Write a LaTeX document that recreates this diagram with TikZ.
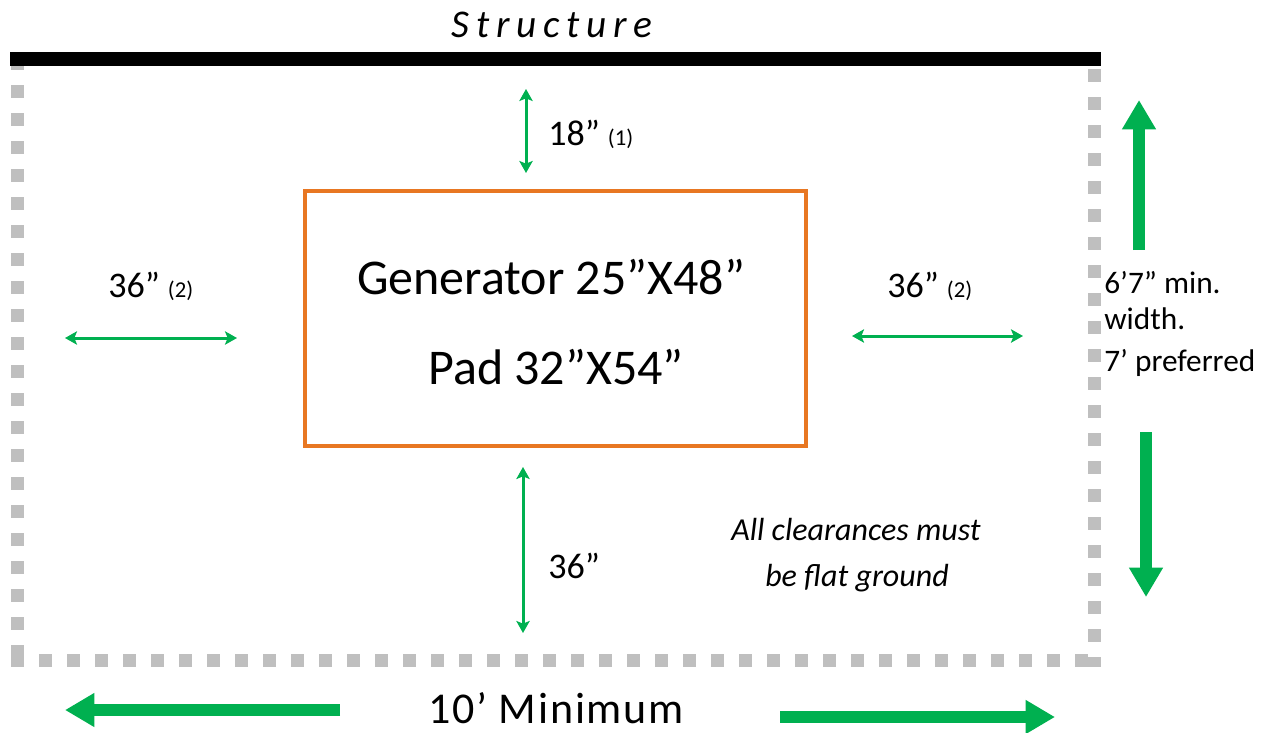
\documentclass[tikz,border=0pt]{standalone}
\usepackage{fontspec}
\setmainfont{Carlito}
\usetikzlibrary{arrows.meta}
\definecolor{grn}{HTML}{00B050}
\definecolor{org}{HTML}{E87722}
\definecolor{gry}{HTML}{BFBFBF}
\begin{document}
\begin{tikzpicture}[x=0.75pt,y=-0.75pt,
  thinarrow/.style={grn, line width=2.25pt,
    {Stealth[width=10pt,length=9pt,inset=2pt]}-{Stealth[width=10pt,length=9pt,inset=2pt]}},
  bigarrow/.style={grn, line width=9pt, -{Triangle[width=24pt,length=22pt]}},
  border/.style={gry, line width=9.75pt, dash pattern=on 9.75pt off 11.25pt},
  lbl/.style={inner sep=0pt, font=\fontsize{27}{32}\selectfont},
  small/.style={inner sep=0pt, font=\fontsize{23.5}{28}\selectfont},
  note/.style={inner sep=0pt, font=\fontsize{24}{29}\selectfont\itshape},
  genbox/.style={draw=org, line width=3pt, minimum width=375.75pt, minimum height=191.25pt, inner sep=0pt}]
\useasboundingbox (0,0) rectangle (1280,732);
% clearance border
\coordinate (bl1) at (17,57);   \coordinate (bl2) at (17,667);
\coordinate (br1) at (1094,69); \coordinate (br2) at (1094,667);
\coordinate (bb1) at (11,660);  \coordinate (bb2) at (1101,660);
\draw[border] (bl1) -- (bl2);
\draw[border] (br1) -- (br2);
\draw[border] (bb1) -- (bb2);
% structure wall
\coordinate (w1) at (10,59); \coordinate (w2) at (1101,59);
\draw[line width=10.5pt] (w1) -- (w2);
\node[inner sep=0pt, anchor=base, font=\fontsize{29.5}{34}\selectfont\itshape\addfontfeatures{LetterSpace=17}] (struct) at (552,37) {Structure};
% generator
\node[genbox] (gen) at (555.5,318.5) {};
\node[inner sep=0pt, anchor=base, font=\fontsize{37.5}{44}\selectfont] (gtxt) at (551,294) {Generator 25”X48”};
\node[inner sep=0pt, anchor=base, font=\fontsize{37.5}{44}\selectfont] (ptxt) at (556,384) {Pad 32”X54”};
% top clearance
\coordinate (a1) at (526,89); \coordinate (a2) at (526,173);
\draw[thinarrow] (a1) -- (a2);
\node[lbl, anchor=base west] (t18) at (548,145) {18” {\fontsize{17}{20}\selectfont(1)}};
% left clearance
\coordinate (b1) at (65,338); \coordinate (b2) at (237,338);
\draw[thinarrow] (b1) -- (b2);
\node[lbl, anchor=base west] (tl) at (108,297) {36” {\fontsize{17}{20}\selectfont(2)}};
% right clearance
\coordinate (c1) at (852,336); \coordinate (c2) at (1023,336);
\draw[thinarrow] (c1) -- (c2);
\node[lbl, anchor=base west] (tr) at (887,297) {36” {\fontsize{17}{20}\selectfont(2)}};
% bottom clearance
\coordinate (d1) at (523,467); \coordinate (d2) at (523,633);
\draw[thinarrow] (d1) -- (d2);
\node[lbl, anchor=base west] (tb) at (548,578) {36”};
% note
\node[note, anchor=base] (n1) at (856,540) {All clearances must};
\node[note, anchor=base] (n2) at (857,586) {be flat ground};
% width
\coordinate (u1) at (1139,250); \coordinate (u2) at (1139,100);
\draw[bigarrow] (u1) -- (u2);
\coordinate (v1) at (1146,432); \coordinate (v2) at (1146,597);
\draw[bigarrow] (v1) -- (v2);
\node[small, anchor=base west] (w1t) at (1104,293) {6’7” min.};
\node[small, anchor=base west] (w2t) at (1104,329) {width.};
\node[small, anchor=base west] (w3t) at (1104,371) {7’ preferred};
% length
\coordinate (h1) at (340,710); \coordinate (h2) at (65,710);
\draw[bigarrow] (h1) -- (h2);
\coordinate (k1) at (780,717); \coordinate (k2) at (1055,717);
\draw[bigarrow] (k1) -- (k2);
\node[inner sep=0pt, anchor=base, font=\fontsize{33}{39}\selectfont\addfontfeatures{LetterSpace=4}] (len) at (556,723) {10’ Minimum};
\end{tikzpicture}
\end{document}
